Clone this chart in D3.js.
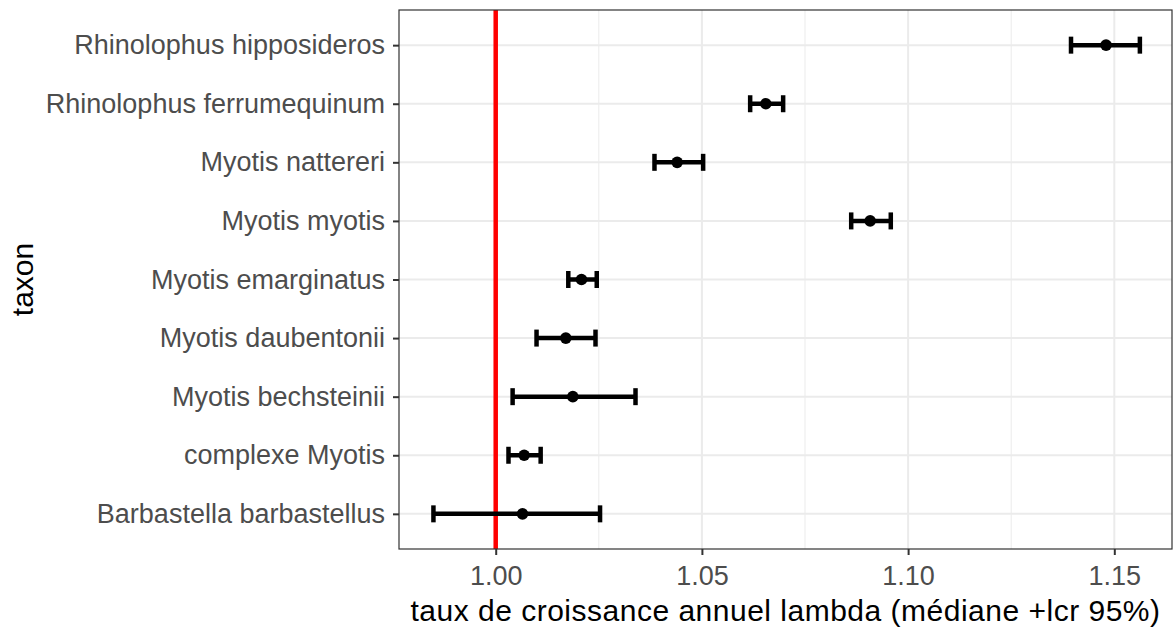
<!DOCTYPE html>
<html>
<head>
<meta charset="utf-8">
<script src="https://cdn.jsdelivr.net/npm/d3@7"></script>
<style>
  html, body { margin: 0; padding: 0; background: #fff; }
  svg { display: block; font-family: "Liberation Sans", Arial, sans-serif; }
</style>
</head>
<body>
<svg id="chart" width="1174" height="627"></svg>
<script>
// Categories from top to bottom
const taxa = [
  "Rhinolophus hipposideros",
  "Rhinolophus ferrumequinum",
  "Myotis nattereri",
  "Myotis myotis",
  "Myotis emarginatus",
  "Myotis daubentonii",
  "Myotis bechsteinii",
  "complexe Myotis",
  "Barbastella barbastellus"
];
const median = [1.1480, 1.0655, 1.0440, 1.0908, 1.0208, 1.0170, 1.0187, 1.0069, 1.0065];
const lower  = [1.1395, 1.0617, 1.0385, 1.0862, 1.0176, 1.0099, 1.0041, 1.0031, 0.9849];
const upper  = [1.1562, 1.0697, 1.0503, 1.0958, 1.0245, 1.0242, 1.0339, 1.0109, 1.0253];
const xTicks = [1.00, 1.05, 1.10, 1.15];
const xMinor = [1.025, 1.075, 1.125];
const refLine = 1.0;

const svg = d3.select("#chart");
const panel = { left: 399, right: 1172, top: 10, bottom: 549 };
const FONT = "Liberation Sans, Arial, sans-serif";

const x = d3.scaleLinear().domain([0.97655, 1.16399]).range([panel.left, panel.right]);
const yIdx = d3.scaleLinear().domain([0.4, 9.6]).range([panel.bottom, panel.top]);
const yPos = name => yIdx(taxa.length - taxa.indexOf(name));

const data = taxa.map((t, i) => ({ taxon: t, med: median[i], lo: lower[i], hi: upper[i] }));

// minor grid
svg.append("g").selectAll("line").data(xMinor).join("line")
  .attr("x1", d => x(d)).attr("x2", d => x(d))
  .attr("y1", panel.top).attr("y2", panel.bottom)
  .attr("stroke", "#EBEBEB").attr("stroke-width", 1);

// major grid vertical
svg.append("g").selectAll("line").data(xTicks).join("line")
  .attr("x1", d => x(d)).attr("x2", d => x(d))
  .attr("y1", panel.top).attr("y2", panel.bottom)
  .attr("stroke", "#EBEBEB").attr("stroke-width", 2);

// major grid horizontal
svg.append("g").selectAll("line").data(taxa).join("line")
  .attr("x1", panel.left).attr("x2", panel.right)
  .attr("y1", d => yPos(d)).attr("y2", d => yPos(d))
  .attr("stroke", "#EBEBEB").attr("stroke-width", 2);

// reference line
svg.append("line")
  .attr("x1", x(refLine)).attr("x2", x(refLine))
  .attr("y1", panel.top).attr("y2", panel.bottom)
  .attr("stroke", "#FF0000").attr("stroke-width", 4.5);

// error bars
const eb = svg.append("g").selectAll("g").data(data).join("g");
const capH = 8.5, lw = 4.5;
eb.append("line")
  .attr("x1", d => x(d.lo)).attr("x2", d => x(d.hi))
  .attr("y1", d => yPos(d.taxon)).attr("y2", d => yPos(d.taxon))
  .attr("stroke", "#000").attr("stroke-width", lw);
eb.append("line")
  .attr("x1", d => x(d.lo)).attr("x2", d => x(d.lo))
  .attr("y1", d => yPos(d.taxon) - capH).attr("y2", d => yPos(d.taxon) + capH)
  .attr("stroke", "#000").attr("stroke-width", lw);
eb.append("line")
  .attr("x1", d => x(d.hi)).attr("x2", d => x(d.hi))
  .attr("y1", d => yPos(d.taxon) - capH).attr("y2", d => yPos(d.taxon) + capH)
  .attr("stroke", "#000").attr("stroke-width", lw);
eb.append("circle")
  .attr("cx", d => x(d.med)).attr("cy", d => yPos(d.taxon))
  .attr("r", 5.8).attr("fill", "#000");

// panel border
svg.append("rect").attr("x", panel.left).attr("y", panel.top)
  .attr("width", panel.right - panel.left).attr("height", panel.bottom - panel.top)
  .attr("fill", "none").attr("stroke", "#333333").attr("stroke-width", 1.2);

// x axis
const xAxis = d3.axisBottom(x).tickValues(xTicks).tickFormat(d3.format(".2f"))
  .tickSize(6).tickPadding(11);
const gx = svg.append("g").attr("transform", `translate(0,${panel.bottom})`).call(xAxis);
gx.select(".domain").remove();
gx.selectAll(".tick line").attr("stroke", "#333333").attr("stroke-width", 2);
gx.selectAll(".tick text").attr("fill", "#4D4D4D").attr("font-size", 27)
  .attr("font-family", FONT);

// y axis
const yBand = d3.scalePoint().domain(taxa).range([yPos(taxa[0]), yPos(taxa[taxa.length - 1])]);
const yAxis = d3.axisLeft(yBand).tickSize(6).tickPadding(8);
const gy = svg.append("g").attr("transform", `translate(${panel.left},0)`).call(yAxis);
gy.select(".domain").remove();
gy.selectAll(".tick line").attr("stroke", "#333333").attr("stroke-width", 2);
gy.selectAll(".tick text").attr("fill", "#4D4D4D").attr("font-size", 27)
  .attr("font-family", FONT);

// axis titles
svg.append("text")
  .attr("x", (panel.left + panel.right) / 2).attr("y", 621)
  .attr("text-anchor", "middle").attr("font-size", 30).attr("letter-spacing", 0.5)
  .attr("fill", "#000").attr("font-family", FONT)
  .text("taux de croissance annuel lambda (médiane +lcr 95%)");
svg.append("text")
  .attr("transform", `translate(33,${(panel.top + panel.bottom) / 2}) rotate(-90)`)
  .attr("text-anchor", "middle").attr("font-size", 30)
  .attr("fill", "#000").attr("font-family", FONT)
  .text("taxon");
</script>
</body>
</html>
